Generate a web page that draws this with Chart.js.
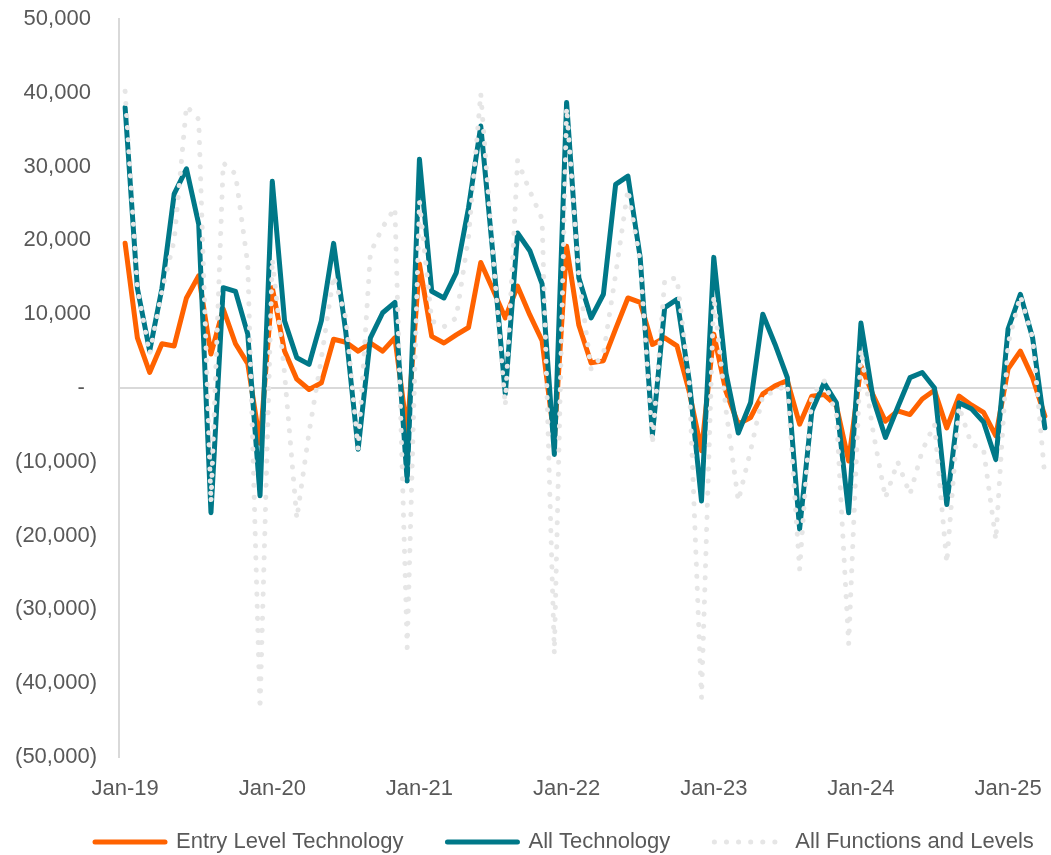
<!DOCTYPE html>
<html lang="en">
<head>
    <meta charset="UTF-8">
    <title>Technology Postings, Change</title>
    <style>
        html, body {
            margin: 0;
            padding: 0;
            overflow: hidden;
            background: #ffffff;
        }
        #wrap {
            width: 1051px;
            height: 855px;
            overflow: hidden;
        }
        canvas {
            display: block;
        }
    </style>
</head>
<body>
    <div id="wrap"><canvas id="lineChart" width="1051" height="877"></canvas></div>

    <script src="https://cdn.jsdelivr.net/npm/chart.js"></script>
    <script>
        // categories: monthly, Jan-19 to Apr-25
        const monthNames = ['Jan', 'Feb', 'Mar', 'Apr', 'May', 'Jun', 'Jul', 'Aug', 'Sep', 'Oct', 'Nov', 'Dec'];
        const years = ['19', '20', '21', '22', '23', '24', '25'];
        const lastMonthOfLastYear = 4;

        const months = [];
        years.forEach((yr, yi) => {
            const count = yi === years.length - 1 ? lastMonthOfLastYear : 12;
            for (let m = 0; m < count; m++) {
                months.push(monthNames[m] + '-' + yr);
            }
        });

        const yTicks = [-50000, -40000, -30000, -20000, -10000, 0, 10000, 20000, 30000, 40000, 50000];

        const entryLevelTech = [
            19600, 6800, 2100, 6000, 5700, 12200, 15200, 4600, 10700, 6000, 3300, -7500,
            13600, 5000, 1200, -200, 700, 6600, 6200, 5000, 6100, 5000, 6800, -6000,
            16800, 7000, 6100, 7200, 8200, 17000, 13300, 9500, 13800, 9900, 6400, -7000,
            19200, 8500, 3400, 3700, 8000, 12200, 11600, 5900, 6800, 5700, -500, -8500,
            7300, -500, -4900, -4000, -800, 300, 1000, -4900, -1100, -900, -2400, -9900,
            3000, -1000, -4500, -3100, -3600, -1500, -300, -5400, -1100, -2300, -3300, -6500,
            2600, 5000, 1400, -3800
        ];

        const allTech = [
            38000, 13500, 5000, 13500, 26300, 29700, 22200, -16900, 13600, 13100, 7300, -14600,
            28000, 9100, 4100, 3200, 9100, 19600, 7500, -8300, 6800, 10200, 11600, -12600,
            31000, 13100, 12200, 15600, 24400, 35500, 18000, -800, 21000, 18600, 14100, -9000,
            38700, 14900, 9500, 12700, 27600, 28700, 17700, -6300, 10900, 12000, 1000, -15300,
            17700, 2000, -6100, -2000, 10000, 5900, 1400, -19100, -3100, 700, -2000, -16900,
            8800, -1500, -6700, -2600, 1400, 2100, 0, -15800, -2000, -2800, -4600, -9700,
            8000, 12700, 6800, -5400
        ];

        const allFunctions = [
            40200, 13500, 4600, 13100, 20000, 38200, 36400, -15500, 30500, 29000, 16800, -43500,
            17500, 2000, -17700, -6000, 4000, 15200, 9500, -8300, 18300, 21800, 24400, -35200,
            25300, 9100, 8300, 9500, 20400, 39900, 18000, -2400, 30800, 26700, 22900, -36000,
            38000, 15000, 2500, 4600, 15400, 26900, 17200, -7600, 14700, 14900, 1000, -42000,
            12500, -3000, -15300, -8500, -1000, -500, 500, -24600, -1000, 1000, -3600, -34700,
            5200, -6000, -14900, -10000, -14400, -8500, -4900, -23700, -2500, -7600, -8300, -20600,
            6000, 12500, 6800, -12100
        ];

        const textColor = '#595959';
        const axisColor = '#d9d9d9';
        const fontFamily = "'Liberation Sans', Arial, sans-serif";

        function fmtAccounting(v) {
            if (v === 0) return '-  ';
            const s = Math.abs(v).toLocaleString('en-US');
            return v < 0 ? '(' + s + ')' : s + ' ';
        }

        // the legend in the source sits further right and higher than the default one
        const legendShift = {
            id: 'legendShift',
            afterLayout(chart) {
                const lg = chart.legend;
                if (lg) {
                    lg.left += 43;
                    lg.right += 43;
                    lg.top -= 14;
                    lg.bottom -= 14;
                }
            }
        };

        const ctx = document.getElementById('lineChart').getContext('2d');
        const lineChart = new Chart(ctx, {
            type: 'line',
            data: {
                labels: months,
                datasets: [
                    {
                        label: 'Entry Level Technology',
                        data: entryLevelTech,
                        borderColor: '#ff6200',
                        backgroundColor: '#ff6200',
                        borderWidth: 5,
                        borderJoinStyle: 'round',
                        borderCapStyle: 'round',
                        pointRadius: 0,
                        tension: 0,
                        order: 3
                    },
                    {
                        label: 'All Technology',
                        data: allTech,
                        borderColor: '#007888',
                        backgroundColor: '#007888',
                        borderWidth: 5,
                        borderJoinStyle: 'round',
                        borderCapStyle: 'round',
                        pointRadius: 0,
                        tension: 0,
                        order: 2
                    },
                    {
                        label: 'All Functions and Levels',
                        data: allFunctions,
                        borderColor: '#e6e6e6',
                        backgroundColor: '#e6e6e6',
                        borderWidth: 5,
                        borderDash: [0.1, 12],
                        borderCapStyle: 'round',
                        borderJoinStyle: 'round',
                        pointRadius: 0,
                        tension: 0,
                        order: 1
                    }
                ]
            },
            options: {
                responsive: false,
                animation: false,
                events: [],
                layout: {
                    padding: { top: 19, left: 8, right: 0, bottom: 0 }
                },
                scales: {
                    x: {
                        offset: true,
                        grid: {
                            display: true,
                            drawOnChartArea: false,
                            drawTicks: true,
                            tickLength: 19,
                            color: 'rgba(0,0,0,0)',
                            tickColor: 'rgba(0,0,0,0)'
                        },
                        border: { display: false },
                        ticks: {
                            autoSkip: false,
                            maxRotation: 0,
                            minRotation: 0,
                            padding: 0,
                            color: textColor,
                            font: { family: fontFamily, size: 22 },
                            callback: function (value) {
                                const lab = this.getLabelForValue(value);
                                return lab.startsWith('Jan') ? lab : '';
                            }
                        },
                        afterFit: (scale) => { scale.height = 44; }
                    },
                    y: {
                        min: yTicks[0],
                        max: yTicks[yTicks.length - 1],
                        afterBuildTicks: (scale) => {
                            scale.ticks = yTicks.map(v => ({ value: v }));
                        },
                        grid: {
                            drawTicks: true,
                            tickLength: 22,
                            tickColor: 'rgba(0,0,0,0)',
                            lineWidth: 2,
                            color: (c) => (c.tick && c.tick.value === 0 ? axisColor : 'rgba(0,0,0,0)')
                        },
                        border: { display: true, color: axisColor, width: 2 },
                        ticks: {
                            padding: 0,
                            color: textColor,
                            font: { family: fontFamily, size: 22 },
                            callback: (v) => fmtAccounting(v)
                        },
                        afterFit: (scale) => { scale.width = 111; }
                    }
                },
                plugins: {
                    legend: {
                        position: 'bottom',
                        align: 'start',
                        labels: {
                            usePointStyle: true,
                            pointStyle: 'line',
                            pointStyleWidth: 70,
                            boxWidth: 70,
                            padding: 44,
                            color: textColor,
                            font: { family: fontFamily, size: 22 },
                            sort: (a, b) => a.datasetIndex - b.datasetIndex,
                            generateLabels: (chart) => {
                                const items = Chart.defaults.plugins.legend.labels.generateLabels(chart);
                                items.forEach(it => {
                                    const ds = chart.data.datasets[it.datasetIndex];
                                    it.strokeStyle = ds.borderColor;
                                    it.lineWidth = ds.borderWidth;
                                    it.lineDash = ds.borderDash || [];
                                    it.lineCap = ds.borderCapStyle || 'butt';
                                });
                                return items;
                            }
                        }
                    },
                    tooltip: { enabled: false }
                }
            },
            plugins: [legendShift]
        });
    </script>
</body>
</html>
